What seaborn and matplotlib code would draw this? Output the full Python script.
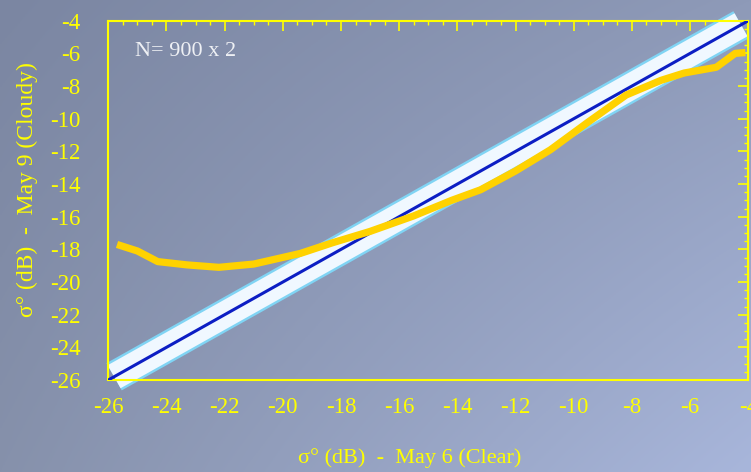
import numpy as np
import pandas as pd
import matplotlib
matplotlib.use('Agg')
import matplotlib.pyplot as plt
from matplotlib.ticker import MultipleLocator
import seaborn as sns

# mean backscatter, cloudy day vs clear day
clear_db = [-25.7, -25.0, -24.3, -23.3, -22.2, -21.0, -19.4, -18.3, -17.0, -15.5, -14.2,
            -13.2, -12.0, -10.8, -9.5, -8.2, -7.0, -6.2, -5.1, -4.45, -4.1]
cloudy_db = [-17.7, -18.1, -18.75, -18.95, -19.1, -18.9, -18.25, -17.6, -16.9, -15.95, -15.0,
             -14.35, -13.2, -11.9, -10.2, -8.55, -7.65, -7.2, -6.85, -6.0, -5.95]

# 1:1 line and the +-1 dB band around it
one_to_one = [-26, -4]
band_ends = [-25.8, -4.25]

x_ticks = list(range(-26, -3, 2))
y_ticks = list(range(-26, -3, 2))

xlabel = 'σ° (dB)  -  May 6 (Clear)'
ylabel = 'σ° (dB)  -  May 9 (Cloudy)'
note = 'N= 900 x 2'

yellow = '#ffff00'
curve_col = '#ffd200'

sns.set_style('white')
plt.rcParams['font.family'] = ['Liberation Serif', 'DejaVu Serif']
plt.rcParams['axes.unicode_minus'] = False

fig = plt.figure(figsize=(7.51, 4.72), dpi=100)

# gradient background
bg = fig.add_axes([0, 0, 1, 1], zorder=-10)
c_tl = np.array([0x7b, 0x86, 0xa2]) / 255
c_tr = np.array([0x8e, 0x9a, 0xb8]) / 255
c_bl = np.array([0x86, 0x91, 0xab]) / 255
c_br = np.array([0xa8, 0xb6, 0xdb]) / 255
u = np.linspace(0, 1, 300)[None, :, None]
v = np.linspace(0, 1, 200)[:, None, None]
img = (c_tl * (1 - u) * (1 - v) + c_tr * u * (1 - v) + c_bl * (1 - u) * v + c_br * u * v)
bg.imshow(img, aspect='auto', extent=[0, 1, 0, 1])
bg.axis('off')

ax = fig.add_axes([0.1442, 0.1949, 0.8522, 0.7612])
ax.set_facecolor('none')

# band
ax.plot(band_ends, band_ends, color='#80d4f4', lw=22.5, solid_capstyle='butt',
        clip_on=False, zorder=1)
ax.plot(band_ends, band_ends, color='#f0f8ff', lw=19, solid_capstyle='butt',
        clip_on=False, zorder=2)

ref = pd.DataFrame({'x': one_to_one, 'y': one_to_one})
sns.lineplot(data=ref, x='x', y='y', color='#0c1ec4', lw=2.2, ax=ax, zorder=3)

df = pd.DataFrame({'clear': clear_db, 'cloudy': cloudy_db})
sns.lineplot(data=df, x='clear', y='cloudy', color=curve_col, lw=5.2, ax=ax,
             sort=False, zorder=4)
for l in ax.lines[-1:]:
    l.set_solid_capstyle('butt')
    l.set_solid_joinstyle('round')

ax.set_xlim(-26, -4)
ax.set_ylim(-26, -4)
ax.set_xticks(x_ticks)
ax.set_yticks(y_ticks)
ax.xaxis.set_minor_locator(MultipleLocator(0.5))
ax.yaxis.set_minor_locator(MultipleLocator(0.5))
ax.tick_params(which='both', direction='in', top=True, right=True, color=yellow,
               labelcolor=yellow, labelsize=16.5)
ax.tick_params(which='major', length=7, width=1.2)
ax.tick_params(which='minor', length=3, width=1.0)
ax.tick_params(axis='y', which='major', pad=20)
ax.tick_params(axis='x', which='major', pad=12)
for s in ax.spines.values():
    s.set_color(yellow)
    s.set_linewidth(1.5)
    s.set_visible(True)

ax.set_xlabel(xlabel, color=yellow, fontsize=16, va='center')
ax.set_ylabel(ylabel, color=yellow, fontsize=17, va='center')
ax.xaxis.set_label_coords(0.471, -0.217)
ax.yaxis.set_label_coords(-0.127, 0.529)

ax.text(0.042, 0.914, note, transform=ax.transAxes, color='#eef0f4', fontsize=16,
        ha='left', va='center')

plt.savefig('out.png', dpi=100)
